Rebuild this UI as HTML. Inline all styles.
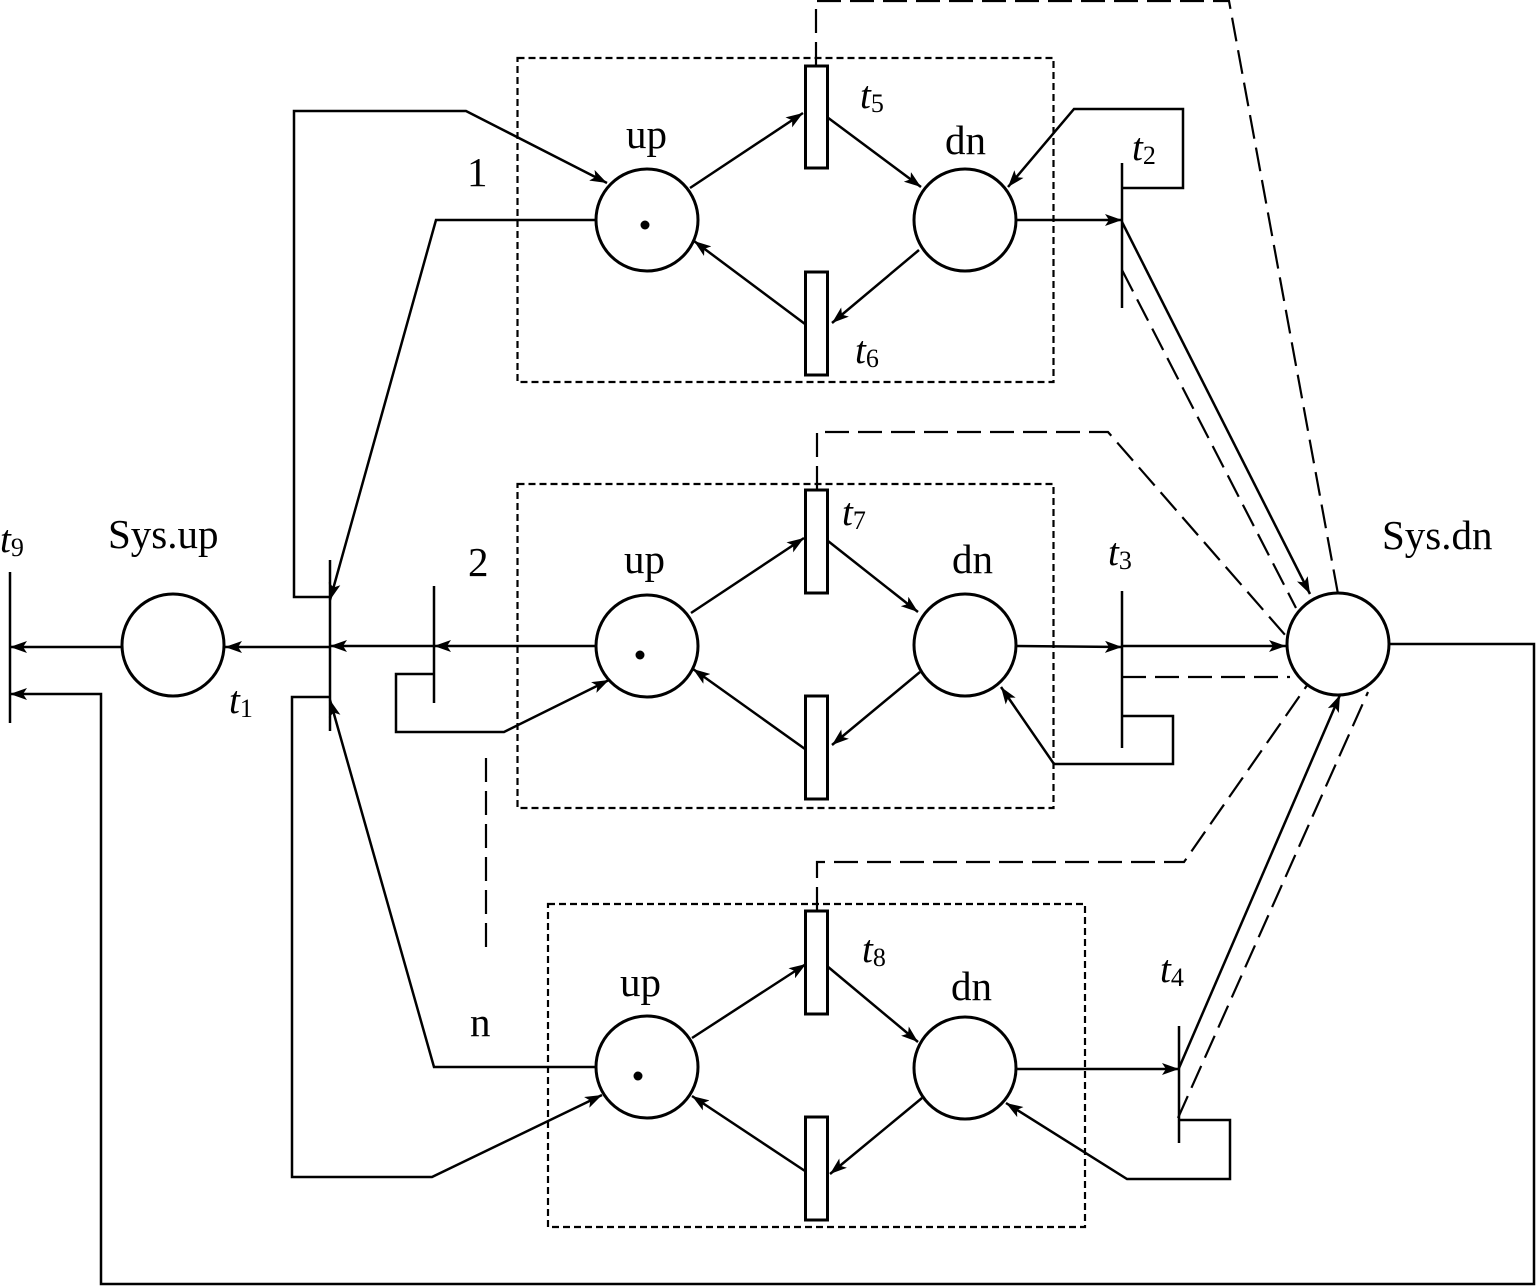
<!DOCTYPE html>
<html><head><meta charset="utf-8"><style>
html,body{margin:0;padding:0;background:#fff}
svg{display:block}
text{font-family:"Liberation Serif",serif;fill:#000;font-size:41px}
.i{font-style:italic;font-size:39px}
.s{font-size:26px;font-style:normal}
</style></head><body>
<svg width="1536" height="1286" viewBox="0 0 1536 1286" xmlns="http://www.w3.org/2000/svg">
<defs><marker id="a" markerUnits="userSpaceOnUse" markerWidth="18" markerHeight="12" refX="17" refY="6" orient="auto"><path d="M0 0L17 6L0 12L4 6Z" fill="#000"/></marker></defs>
<g fill="none" stroke="#000" stroke-width="2.5">
<g stroke-dasharray="7 4" stroke-width="2.2">
<rect x="517.500" y="58" width="536" height="324"/>
<rect x="517.500" y="484" width="536" height="324"/>
<rect x="548" y="904" width="537" height="323"/>
</g>
<g stroke-dasharray="24 9" stroke-width="2.2">
<path d="M816 66V1H1229L1338 594"/>
<path d="M817 490V432H1108L1286 636"/>
<path d="M817 911V862H1184L1308 684"/>
<path d="M1122 270L1296 608"/>
<path d="M1122 677H1290"/>
<path d="M1178 1118L1368 692"/>
<path d="M486 758V955"/>
</g>
<g marker-end="url(#a)">
<path d="M330 597H294V111H466L607 183"/>
<path d="M596 220H436L330 600"/>
<path d="M690 188L803 113"/>
<path d="M827 117L921 187"/>
<path d="M805 324L694 241"/>
<path d="M919 250L832 323"/>
<path d="M1016 220H1122"/>
<path d="M1122 188H1183V109H1074L1008 187"/>
<path d="M1122 222L1310 594"/>
<path d="M596 646H434"/>
<path d="M434 646H330"/>
<path d="M330 647H225"/>
<path d="M122 647H10"/>
<path d="M434 674H396V732H504L609 680"/>
<path d="M691 613L804 538"/>
<path d="M828 541L918 612"/>
<path d="M805 749L693 669"/>
<path d="M920 672L832 745"/>
<path d="M1016 646L1122 647"/>
<path d="M1122 646H1286"/>
<path d="M1122 716H1173V764H1054L1001 687"/>
<path d="M596 1067H434L330 700"/>
<path d="M330 697H292V1177H432L602 1095"/>
<path d="M692 1038L806 964"/>
<path d="M827 966L918 1042"/>
<path d="M805 1171L692 1096"/>
<path d="M922 1098L830 1174"/>
<path d="M1016 1069H1179"/>
<path d="M1179 1120H1230V1179H1127L1006 1103"/>
<path d="M1179 1068L1340 695"/>
<path d="M1390 644H1534V1284H101V694H10"/>
</g>
<path d="M1122 163V308M1122 591V748M1179 1026V1143M330 560V731M434 586V703M10 572V723"/>
<g fill="#fff" stroke-width="3">
<circle cx="647" cy="220" r="51"/><circle cx="965" cy="220" r="51"/>
<circle cx="647" cy="646" r="51"/><circle cx="965" cy="645" r="51"/>
<circle cx="647" cy="1067" r="51"/><circle cx="965" cy="1068" r="51"/>
<circle cx="173" cy="645" r="51"/><circle cx="1338" cy="644" r="51"/>
<rect x="805.500" y="66" width="22" height="102"/><rect x="805.500" y="272" width="22" height="103"/>
<rect x="805.500" y="490" width="22" height="103"/><rect x="805.500" y="696" width="22" height="103"/>
<rect x="805.500" y="911" width="22" height="103"/><rect x="805.500" y="1117" width="22" height="103"/>
</g>
</g>
<circle cx="645" cy="225" r="4.500"/><circle cx="640" cy="655" r="4.500"/><circle cx="638" cy="1076" r="4.500"/>
<text x="626" y="148">up</text><text x="945" y="154">dn</text>
<text x="624" y="573">up</text><text x="952" y="573">dn</text>
<text x="620" y="996">up</text><text x="951" y="1000">dn</text>
<text x="108" y="548">Sys.up</text><text x="1382" y="549">Sys.dn</text>
<text x="467" y="186">1</text><text x="468" y="576">2</text><text x="470" y="1036">n</text>
<text x="860" y="108" class="i">t<tspan class="s" dy="4">5</tspan></text>
<text x="1132" y="160" class="i">t<tspan class="s" dy="4">2</tspan></text>
<text x="855" y="363" class="i">t<tspan class="s" dy="4">6</tspan></text>
<text x="842" y="525" class="i">t<tspan class="s" dy="4">7</tspan></text>
<text x="1108" y="565" class="i">t<tspan class="s" dy="4">3</tspan></text>
<text x="862" y="962" class="i">t<tspan class="s" dy="4">8</tspan></text>
<text x="1160" y="982" class="i">t<tspan class="s" dy="4">4</tspan></text>
<text x="229" y="713" class="i">t<tspan class="s" dy="4">1</tspan></text>
<text x="0" y="552" class="i">t<tspan class="s" dy="4">9</tspan></text>
</svg>
</body></html>
